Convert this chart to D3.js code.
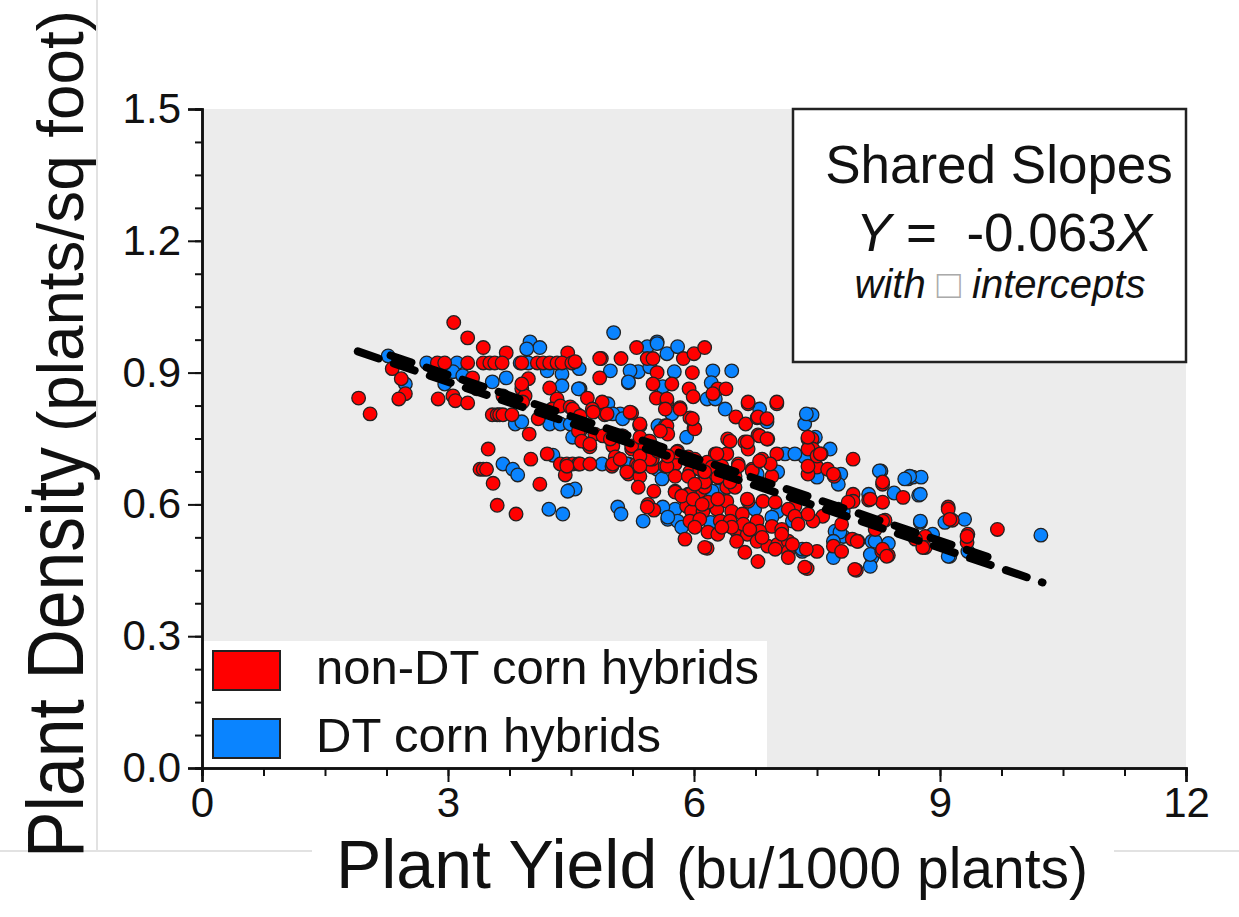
<!DOCTYPE html>
<html>
<head>
<meta charset="utf-8">
<script src="https://cdn.jsdelivr.net/npm/d3@7"></script>
<style>
  body { margin: 0; background: #fff; }
  text { font-family: "Liberation Sans", Arial, sans-serif; fill: #111; }
</style>
</head>
<body>
<div id="chart"></div>
<script>
window.onload = function() {

  // non-DT hybrids (red) : [yield, density]
  var nonDT = [
    [3.07,1.014],[3.24,0.979],[3.43,0.957],[3.71,0.945],[4.46,0.945],[1.91,0.842],[2.05,0.806],[2.32,0.909],[2.43,0.886],[2.48,0.852],[2.40,0.840],
    [2.87,0.922],[2.96,0.922],[3.24,0.922],[3.43,0.922],[3.51,0.922],[3.57,0.922],[3.66,0.922],[3.90,0.922],[4.09,0.922],[4.16,0.922],[4.24,0.922],[4.33,0.922],[4.39,0.922],[4.51,0.922],
    [3.30,0.888],[3.35,0.863],[2.88,0.840],[3.06,0.847],[3.09,0.836],[3.24,0.831],[3.67,0.847],[3.90,0.863],[3.94,0.847],[3.98,0.886],[3.90,0.874],[3.91,0.833],[4.24,0.865],[4.33,0.840],[4.27,0.817],[4.37,0.824],[4.10,0.795],[4.49,0.822],[4.57,0.806],
    [3.54,0.804],[3.60,0.804],[3.63,0.804],[3.67,0.804],[3.78,0.804],[3.99,0.760],
    [3.49,0.726],[3.39,0.680],[3.43,0.680],[3.47,0.680],[3.55,0.648],[3.60,0.598],[3.83,0.578],[4.01,0.703],[4.21,0.715],[4.12,0.646],[4.37,0.692],[4.45,0.692],[4.52,0.692],[4.59,0.692],[4.43,0.667],
    [4.87,0.932],[5.11,0.932],[4.85,0.888],[4.55,0.925],[5.30,0.957],[5.43,0.932],[5.87,0.932],[6.00,0.943],[6.13,0.957],[5.55,0.900],[5.50,0.874],[5.73,0.874],[5.98,0.900],[5.94,0.863],[5.99,0.845],[6.29,0.863],[6.39,0.863],[6.23,0.852],
    [5.54,0.842],[5.67,0.833],[5.83,0.820],[5.95,0.797],[5.24,0.808],[4.70,0.842],[4.88,0.833],[4.91,0.804],[4.76,0.817],[5.34,0.781],[5.67,0.779],[6.00,0.774],[5.68,0.760],[5.44,0.744],[5.12,0.756],[5.00,0.760],[4.79,0.760],[4.61,0.767],[4.71,0.737],
    [6.51,0.799],[6.63,0.783],[6.66,0.829],[6.77,0.797],[7.01,0.829],[6.41,0.749],[6.62,0.742],[6.78,0.758],[6.90,0.749],[7.39,0.749],
    [7.44,0.749],[7.45,0.726],[7.55,0.715],[7.94,0.703],[7.50,0.685],[7.63,0.680],[7.71,0.664],[8.30,0.646],[7.94,0.623],[8.13,0.610],[8.55,0.616],[8.30,0.605],[9.10,0.594],
    [9.15,0.564],[9.70,0.543],[8.82,0.527],[8.70,0.521],[8.82,0.502],[9.34,0.532],[9.33,0.514],[8.33,0.564],[8.21,0.543],[8.29,0.493],[8.37,0.484],[7.98,0.450],[8.00,0.516],[7.93,0.521],[7.70,0.505],[7.80,0.493],[7.50,0.493],[7.80,0.555],[7.57,0.573],[7.45,0.562],[7.94,0.607],[7.88,0.605],
    [4.73,0.731],[5.01,0.733],[5.24,0.726],[5.37,0.733],[5.80,0.721],[6.26,0.715],[6.40,0.715],[6.66,0.726],[7.01,0.715],[7.39,0.726],
    [4.61,0.692],[4.73,0.692],[5.00,0.687],[5.04,0.708],[5.30,0.692],[5.37,0.692],[5.49,0.703],[5.49,0.685],[5.65,0.687],[5.77,0.692],[5.93,0.708],[5.95,0.674],[6.07,0.692],[6.16,0.696],[6.22,0.685],[6.34,0.687],[6.54,0.692],[6.71,0.680],[6.83,0.703],[6.95,0.664],[6.93,0.692],[7.39,0.669],
    [5.20,0.669],[5.34,0.664],[5.77,0.664],[5.93,0.664],[6.13,0.658],[6.35,0.664],[6.50,0.664],
    [5.32,0.639],[5.51,0.630],[5.77,0.630],[5.93,0.623],[6.07,0.630],[6.40,0.639],[6.13,0.639],[6.50,0.639],[6.66,0.607],[6.84,0.607],[6.99,0.605],[7.23,0.596],[7.39,0.578],
    [5.44,0.600],[5.51,0.587],[5.91,0.596],[5.97,0.584],[6.11,0.584],[6.28,0.589],[6.40,0.607],[6.46,0.584],[6.59,0.578],[7.15,0.589],[7.23,0.573],
    [5.95,0.562],[6.07,0.566],[6.32,0.562],[6.44,0.562],[6.77,0.562],[6.95,0.550],[7.07,0.543],[7.27,0.555],[6.17,0.537],[6.29,0.532],[6.52,0.539],[6.65,0.532],[6.80,0.539],
    [5.89,0.521],[6.16,0.500],[6.52,0.516],[6.77,0.516],[6.90,0.505],[7.02,0.509],[7.15,0.516],[7.15,0.493],[6.99,0.498],[6.62,0.491],[6.78,0.470],[7.38,0.454],[7.15,0.479],
    [5.34,0.779],[5.22,0.810],[5.13,0.756],[5.49,0.703],[5.32,0.687],[5.18,0.674],[5.67,0.687],[5.79,0.719],[5.93,0.703],[6.07,0.680],[6.16,0.658],[6.28,0.715],[6.54,0.687],[6.71,0.676],[6.80,0.699],
    [6.13,0.651],[6.65,0.612],[5.77,0.628],[5.95,0.623],[6.44,0.744],[6.01,0.772],[5.98,0.795],[5.83,0.817],[6.65,0.742],[6.80,0.756],[6.89,0.749],[7.50,0.710],[7.39,0.687],[7.70,0.669],
    [8.15,0.612],[8.30,0.651],[9.10,0.589],[9.12,0.566],[9.33,0.527],[8.79,0.502],[8.30,0.562],[8.30,0.498],[8.35,0.482],[7.96,0.452],[7.99,0.516],[7.37,0.498],[7.35,0.457],[6.13,0.502],
    [7.01,0.833],[6.66,0.833],[6.78,0.799],[6.89,0.795],[7.39,0.753],[7.54,0.715],
    [4.52,0.817],[4.61,0.801],[4.77,0.810],[4.94,0.806],[5.34,0.783],[4.59,0.767],[4.63,0.744],[4.73,0.737],[4.89,0.756],[4.98,0.749],[5.24,0.733],[5.34,0.753],[5.46,0.744],[5.46,0.703],[5.34,0.710],[5.50,0.731],[5.59,0.767],[5.67,0.840],[5.65,0.817],
    [5.01,0.692],[5.10,0.703],[5.34,0.687],[4.45,0.687],[5.43,0.594],[5.50,0.932],[4.85,0.932],
    [5.56,0.721],[5.68,0.710],[6.01,0.703],[6.13,0.674],[6.29,0.662],[6.44,0.651],[6.01,0.646],[5.85,0.619],[5.99,0.612],[6.17,0.605],[6.29,0.612],
    [6.60,0.555],[6.68,0.543],[6.83,0.525],[7.07,0.532],[7.20,0.509],[6.46,0.548],[6.34,0.548],[6.01,0.548],[6.10,0.600]
  ];

  // DT hybrids (blue) : [yield, density]
  var DT = [
    [2.74,0.922],[3.11,0.922],[3.88,0.922],[3.98,0.922],[4.52,0.922],[4.00,0.970],[4.12,0.957],[3.96,0.954],[3.54,0.879],[3.71,0.888],[2.96,0.874],[3.06,0.902],[3.18,0.893],
    [3.82,0.783],[3.90,0.788],[4.24,0.783],[4.37,0.783],[4.49,0.783],[4.52,0.753],[4.61,0.863],[4.39,0.897],[4.21,0.904],[4.39,0.870],[2.27,0.938],[2.48,0.874],
    [3.67,0.692],[3.79,0.680],[3.85,0.667],[4.28,0.712],[4.23,0.589],[4.40,0.578],[4.48,0.632],
    [5.02,0.991],[4.98,0.904],[4.60,0.909],[4.60,0.863],[5.43,0.959],[5.55,0.970],[5.67,0.943],[5.80,0.959],[5.32,0.902],[5.20,0.877],[5.46,0.913],[5.76,0.902],[5.62,0.868],
    [6.23,0.904],[6.46,0.904],[6.21,0.877],[6.16,0.840],[6.26,0.840],[5.10,0.806],[4.95,0.829],[5.56,0.779],[5.73,0.806],[5.91,0.753],[6.38,0.817],[6.80,0.817],[6.89,0.788],[7.39,0.801],[7.35,0.783],
    [7.44,0.804],[7.48,0.753],[7.66,0.726],[7.79,0.669],[7.76,0.646],[7.50,0.662],[8.28,0.676],[8.61,0.658],[8.67,0.662],[8.77,0.662],[8.74,0.621],[8.13,0.623],[8.44,0.626],
    [9.06,0.559],[9.30,0.566],[8.76,0.559],[8.91,0.532],[9.34,0.493],[9.12,0.482],[8.17,0.516],[8.37,0.511],[8.17,0.479],[8.15,0.459],[7.82,0.527],[7.70,0.479],[7.72,0.539],[7.82,0.584],[7.76,0.589],
    [4.88,0.692],[5.20,0.692],[5.55,0.680],[7.02,0.674],[7.35,0.708],[7.11,0.715],[7.23,0.715],[5.61,0.658],[6.77,0.669],[6.29,0.630],[4.55,0.635],[5.07,0.594],[5.11,0.578],[5.38,0.562],
    [5.77,0.589],[6.74,0.589],[7.02,0.584],[5.68,0.566],[5.80,0.562],[6.20,0.559],[5.85,0.548],[7.32,0.493],
    [7.37,0.806],[8.26,0.676],[8.63,0.664],[8.57,0.658],[8.76,0.623],[9.10,0.482],[8.76,0.562],[8.21,0.516],[8.15,0.486],[7.78,0.537],[7.21,0.566],[7.32,0.498],[7.70,0.516],
    [5.01,0.806],[5.13,0.795],[5.65,0.779],[5.18,0.692],[5.22,0.904],[5.20,0.879],[5.62,0.594],[5.68,0.571],[4.59,0.863],[4.46,0.630],
    [10.23,0.530],[5.55,0.966],[6.22,0.630],[7.20,0.562],[6.95,0.571]
  ];

  // shared-slope fits (one per intercept)
  var slope = -0.063;
  var fitIntercepts = [1.068, 1.084];
  var fitStarts = [1.9, 2.3];
  var fitEnds = [10.25, 9.7];

  var xTicks = [0, 3, 6, 9, 12];
  var yTicks = [0, 0.3, 0.6, 0.9, 1.2, 1.5];
  var legendLabels = ["non-DT corn hybrids", "DT corn hybrids"];
  var legendColors = ["#ff0000", "#0a84ff"];

  var width = 1239, height = 917;
  var plot = {left: 202, right: 1186, top: 109, bottom: 768};

  var svg = d3.select("#chart").append("svg")
    .attr("width", width)
    .attr("height", height);

  var x = d3.scaleLinear().domain([0, 12]).range([plot.left, plot.right]);
  var y = d3.scaleLinear().domain([0, 1.5]).range([plot.bottom, plot.top]);

  // faint frame lines from the original figure
  svg.append("line").attr("x1", 97).attr("x2", 97).attr("y1", 0).attr("y2", 851)
    .attr("stroke", "#e2e2e2").attr("stroke-width", 2);
  svg.append("line").attr("x1", 0).attr("x2", 312).attr("y1", 851).attr("y2", 851)
    .attr("stroke", "#e2e2e2").attr("stroke-width", 2);
  svg.append("line").attr("x1", 1114).attr("x2", width).attr("y1", 851).attr("y2", 851)
    .attr("stroke", "#e2e2e2").attr("stroke-width", 2);

  // plot background
  svg.append("rect")
    .attr("x", plot.left).attr("y", plot.top)
    .attr("width", plot.right - plot.left).attr("height", plot.bottom - plot.top)
    .attr("fill", "#ececec");

  // points
  function drawPoints(data, color) {
    svg.append("g").selectAll("circle")
      .data(data)
      .enter()
      .append("circle")
      .attr("cx", function(d) { return x(d[0]); })
      .attr("cy", function(d) { return y(d[1]); })
      .attr("r", 6.8)
      .attr("fill", color)
      .attr("stroke", "#222")
      .attr("stroke-width", 1.3);
  }
  drawPoints(DT, legendColors[1]);
  drawPoints(nonDT, legendColors[0]);

  // fitted lines
  fitIntercepts.forEach(function(b, i) {
    svg.append("line")
      .attr("x1", x(fitStarts[i])).attr("y1", y(b + slope * fitStarts[i]))
      .attr("x2", x(fitEnds[i])).attr("y2", y(b + slope * fitEnds[i]))
      .attr("stroke", "#000")
      .attr("stroke-width", 8)
      .attr("stroke-linecap", "round")
      .attr("stroke-dasharray", "22,16");
  });

  // annotation box
  var box = svg.append("g");
  box.append("rect")
    .attr("x", 793).attr("y", 109).attr("width", 393).attr("height", 253)
    .attr("fill", "#fff").attr("stroke", "#222").attr("stroke-width", 2.5);
  box.append("text").attr("x", 999).attr("y", 183).attr("text-anchor", "middle")
    .style("font-size", "53px").text("Shared Slopes");
  var eq = box.append("text").attr("x", 1004).attr("y", 251).attr("text-anchor", "middle")
    .style("font-size", "53px").style("white-space", "pre");
  eq.append("tspan").style("font-style", "italic").text("Y");
  eq.append("tspan").text(" =  -0.063");
  eq.append("tspan").style("font-style", "italic").text("X");
  var w = box.append("text").attr("x", 1000).attr("y", 298).attr("text-anchor", "middle")
    .style("font-size", "40px").style("font-style", "italic");
  w.append("tspan").text("with ");
  w.append("tspan").style("fill", "#aaa").style("font-style", "normal").text("\u25A1");
  w.append("tspan").text(" intercepts");

  // legend
  svg.append("rect")
    .attr("x", 203).attr("y", 641).attr("width", 564).attr("height", 126)
    .attr("fill", "#fff");
  var legend = svg.selectAll(".legend")
    .data(legendLabels)
    .enter()
    .append("g")
    .attr("class", "legend")
    .attr("transform", function(d, i) { return "translate(213," + (651 + i * 68) + ")"; });
  legend.append("rect")
    .attr("width", 67).attr("height", 39)
    .attr("fill", function(d, i) { return legendColors[i]; })
    .attr("stroke", "#222").attr("stroke-width", 2);
  legend.append("text")
    .attr("x", 103).attr("y", 33)
    .style("font-size", "49px")
    .text(function(d) { return d; });

  // axes
  var yAxis = d3.axisLeft(y).tickValues(yTicks).tickSize(14).tickPadding(7).tickFormat(d3.format(".1f"));
  var yMinor = d3.axisLeft(y).tickValues(d3.range(0, 1.5001, 0.075)).tickSize(7).tickFormat("");
  var xAxis = d3.axisBottom(x).tickValues(xTicks).tickSize(14).tickPadding(5).tickFormat(d3.format("d"));
  var xMinor = d3.axisBottom(x).tickValues(d3.range(0, 12.001, 0.75)).tickSize(8).tickFormat("");

  function styleAxis(g) {
    g.select(".domain").attr("stroke", "#111").attr("stroke-width", 2.5);
    g.selectAll(".tick line").attr("stroke", "#111").attr("stroke-width", 2);
    g.selectAll(".tick text").style("font-size", "42px").attr("fill", "#111");
  }

  svg.append("g").attr("transform", "translate(" + plot.left + ",0)").call(yMinor).call(styleAxis);
  svg.append("g").attr("transform", "translate(" + plot.left + ",0)").call(yAxis).call(styleAxis);
  svg.append("g").attr("transform", "translate(0," + plot.bottom + ")").call(xMinor).call(styleAxis);
  svg.append("g").attr("transform", "translate(0," + plot.bottom + ")").call(xAxis).call(styleAxis);

  // axis titles
  var xt = svg.append("text").attr("x", 712).attr("y", 888).attr("text-anchor", "middle");
  xt.append("tspan").style("font-size", "68px").text("Plant Yield ");
  xt.append("tspan").style("font-size", "57px").text("(bu/1000 plants)");

  var yt = svg.append("g").attr("transform", "translate(83,0) rotate(-90)");
  yt.append("text").attr("x", -858).attr("y", 0)
    .attr("textLength", 411).attr("lengthAdjust", "spacingAndGlyphs")
    .style("font-size", "80px").text("Plant Density");
  yt.append("text").attr("x", -432).attr("y", 0)
    .attr("textLength", 422).attr("lengthAdjust", "spacingAndGlyphs")
    .style("font-size", "64px").text("(plants/sq foot)");
}
</script>
</body>
</html>
